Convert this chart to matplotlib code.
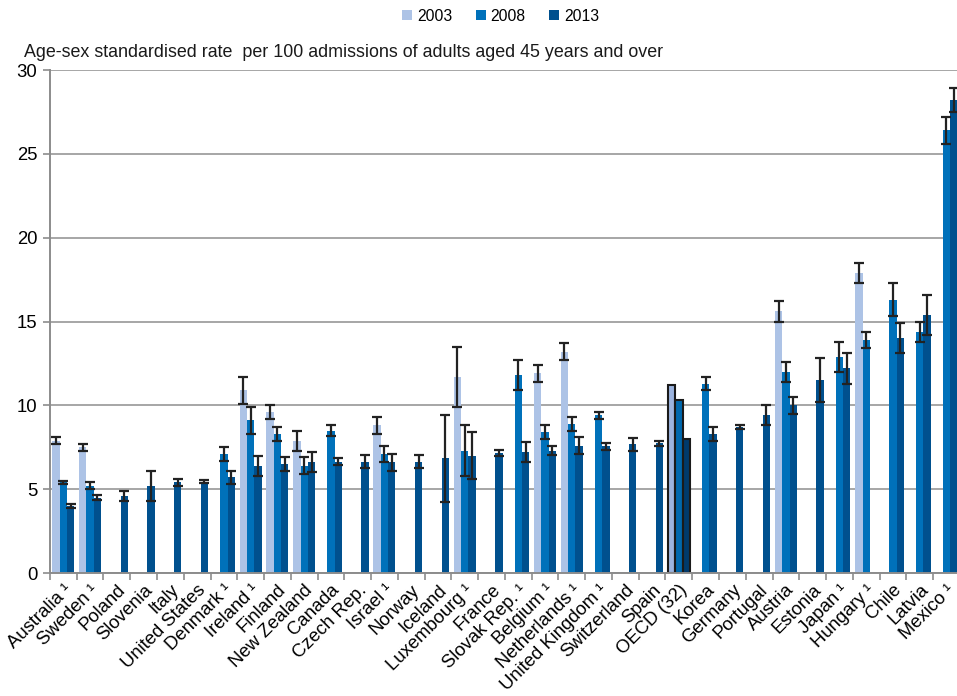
import numpy as np
import matplotlib.pyplot as plt

plt.rcParams['font.family'] = ['Liberation Sans', 'DejaVu Sans']

countries = ["Australia ¹", "Sweden ¹", "Poland", "Slovenia", "Italy", "United States",
             "Denmark ¹", "Ireland ¹", "Finland", "New Zealand", "Canada", "Czech Rep.",
             "Israel ¹", "Norway", "Iceland", "Luxembourg ¹", "France", "Slovak Rep. ¹",
             "Belgium ¹", "Netherlands ¹", "United Kingdom ¹", "Switzerland", "Spain",
             "OECD (32)", "Korea", "Germany", "Portugal", "Austria", "Estonia", "Japan ¹",
             "Hungary ¹", "Chile", "Latvia", "Mexico ¹"]

nan = np.nan
rate_2003 = [7.9, 7.5, nan, nan, nan, nan, nan, 10.9, 9.6, 7.9, nan, nan,
             8.8, nan, nan, 11.7, nan, nan, 11.9, 13.2, nan, nan, nan,
             11.2, nan, nan, nan, 15.6, nan, nan, 17.9, nan, nan, nan]
rate_2008 = [5.4, 5.2, nan, nan, nan, nan, 7.1, 9.1, 8.3, 6.4, 8.5, nan,
             7.1, nan, nan, 7.3, nan, 11.8, 8.4, 8.9, 9.4, nan, nan,
             10.3, 11.3, nan, nan, 12.0, nan, 12.9, 13.9, 16.3, 14.35, 26.4]
rate_2013 = [4.0, 4.5, 4.6, 5.2, 5.4, 5.45, 5.7, 6.4, 6.5, 6.6, 6.65, 6.65,
             6.6, 6.65, 6.85, 7.0, 7.15, 7.2, 7.3, 7.6, 7.55, 7.67, 7.75,
             8.0, 8.3, 8.7, 9.4, 10.0, 11.5, 12.2, nan, 14.0, 15.4, 28.2]

# half-width of the 95% confidence intervals
ci_2003 = [0.2, 0.2, nan, nan, nan, nan, nan, 0.8, 0.4, 0.6, nan, nan,
           0.5, nan, nan, 1.8, nan, nan, 0.5, 0.5, nan, nan, nan,
           nan, nan, nan, nan, 0.6, nan, nan, 0.6, nan, nan, nan]
ci_2008 = [0.1, 0.2, nan, nan, nan, nan, 0.4, 0.8, 0.4, 0.5, 0.3, nan,
           0.5, nan, nan, 1.5, nan, 0.9, 0.4, 0.4, 0.2, nan, nan,
           nan, 0.4, nan, nan, 0.6, nan, 0.9, 0.5, 1.0, 0.6, 0.8]
ci_2013 = [0.1, 0.15, 0.3, 0.9, 0.2, 0.1, 0.4, 0.6, 0.4, 0.6, 0.2, 0.4,
           0.5, 0.4, 2.6, 1.4, 0.2, 0.6, 0.25, 0.5, 0.2, 0.4, 0.15,
           nan, 0.4, 0.1, 0.6, 0.5, 1.3, 0.9, nan, 0.9, 1.2, 0.7]

years = ["2003", "2008", "2013"]
colors = ["#adc3e6", "#0071ba", "#00508e"]
oecd_colors = ["#9cb4df", "#0068ad", "#003a6c"]

fig = plt.figure(figsize=(9.57, 6.96), dpi=100)
ax = fig.add_axes([0.0522, 0.1767, 0.9508, 0.7227])

x = np.arange(len(countries))
width = 0.274
oecd = countries.index("OECD (32)")
series = [(rate_2003, ci_2003), (rate_2008, ci_2008), (rate_2013, ci_2013)]

for i, (vals, ci) in enumerate(series):
    vals = np.array(vals)
    ci = np.array(ci)
    pos = x + (i - 1) * width
    bar_colors = [oecd_colors[i] if j == oecd else colors[i] for j in x]
    bars = ax.bar(pos, np.nan_to_num(vals), width, color=bar_colors, label=years[i], zorder=2)
    bars[oecd].set_edgecolor("#1a1a1a")
    bars[oecd].set_linewidth(1.5)
    ok = ~np.isnan(ci)
    ax.errorbar(pos[ok], vals[ok], yerr=ci[ok], fmt="none", ecolor="#222222",
                elinewidth=1.6, capsize=3.8, capthick=1.6, zorder=3)

ax.set_ylim(0, 30)
ax.set_xlim(-0.5, len(countries) - 0.5)
ax.set_yticks(range(0, 31, 5))
ax.yaxis.grid(True, color="#a6a6a6", linewidth=1.4, zorder=0)
ax.set_axisbelow(True)

ax.set_xticks(x)
ax.set_xticklabels(countries, rotation=45, ha="right", va="top", rotation_mode="anchor", fontsize=13.3)
ax.set_xticks(np.arange(-0.5, len(countries)), minor=True)
ax.tick_params(axis="x", which="major", length=0, pad=6)
ax.tick_params(axis="x", which="minor", length=5, color="#8c8c8c", width=1.2)
ax.tick_params(axis="y", length=5, color="#8c8c8c", width=1.2, labelsize=13.3, pad=4)

for side in ["top", "right"]:
    ax.spines[side].set_visible(False)
for side in ["left", "bottom"]:
    ax.spines[side].set_color("#8c8c8c")
    ax.spines[side].set_linewidth(1.4)

fig.text(0.025, 0.918, "Age-sex standardised rate  per 100 admissions of adults aged 45 years and over",
         fontsize=12.9, color="#1a1a1a")
fig.legend(loc="upper center", bbox_to_anchor=(0.523, 1.008), ncol=3, frameon=False, fontsize=11.3,
           handlelength=0.65, handleheight=0.65, handletextpad=0.3, columnspacing=1.5)

fig.savefig("out.png", dpi=100)
